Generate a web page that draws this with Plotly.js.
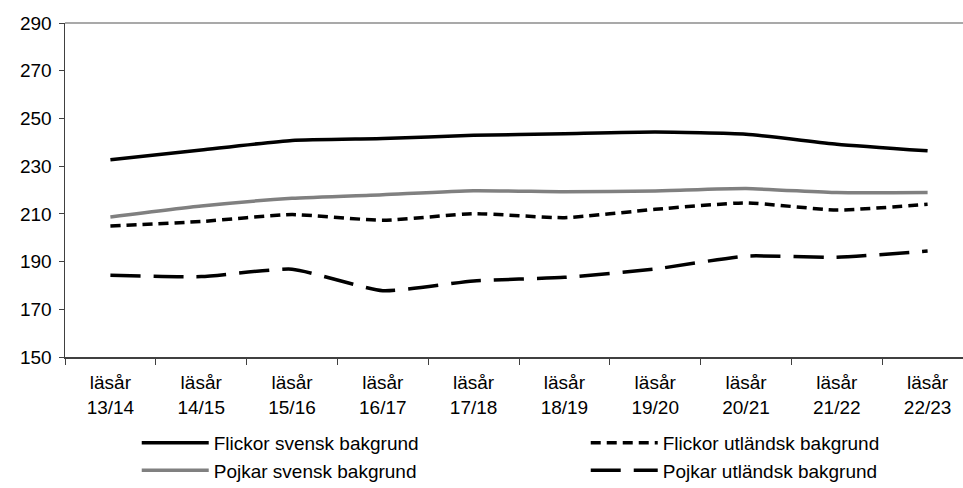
<!DOCTYPE html>
<html>
<head>
<meta charset="utf-8">
<script src="https://cdn.plot.ly/plotly-3.0.1.min.js"></script>
<style>
html,body{margin:0;padding:0;overflow:hidden;background:#fff;}
#chart{width:990px;height:488px;}
</style>
</head>
<body>
<div id="chart"></div>
<script>
var categories = ["läsår<br>13/14","läsår<br>14/15","läsår<br>15/16","läsår<br>16/17","läsår<br>17/18","läsår<br>18/19","läsår<br>19/20","läsår<br>20/21","läsår<br>21/22","läsår<br>22/23"];
var seriesNames = ["Flickor svensk bakgrund","Flickor utländsk bakgrund","Pojkar svensk bakgrund","Pojkar utländsk bakgrund"];
var flickorSvensk   = [232.7, 236.8, 240.8, 241.6, 242.9, 243.6, 244.3, 243.4, 239.2, 236.4];
var flickorUtlandsk = [204.9, 206.8, 209.7, 207.3, 210.1, 208.4, 211.9, 214.6, 211.6, 214.0];
var pojkarSvensk    = [208.7, 213.3, 216.5, 218.0, 219.7, 219.3, 219.6, 220.6, 218.9, 218.9];
var pojkarUtlandsk  = [184.3, 183.7, 186.8, 177.8, 181.9, 183.4, 186.9, 192.3, 191.8, 194.4];

var lineW = 3.5;
var traces = [
  {x: categories, y: flickorSvensk, name: seriesNames[0], type: "scatter", mode: "lines",
   line: {color: "#000000", width: lineW, shape: "spline", smoothing: 0.5}},
  {x: categories, y: flickorUtlandsk, name: seriesNames[1], type: "scatter", mode: "lines",
   line: {color: "#000000", width: lineW, dash: "10px,6px", shape: "spline", smoothing: 0.5}},
  {x: categories, y: pojkarSvensk, name: seriesNames[2], type: "scatter", mode: "lines",
   line: {color: "#808080", width: lineW, shape: "spline", smoothing: 0.5}},
  {x: categories, y: pojkarUtlandsk, name: seriesNames[3], type: "scatter", mode: "lines",
   line: {color: "#000000", width: lineW, dash: "30px,13px", shape: "spline", smoothing: 0.5}}
];

var font = {family: "Liberation Sans, Arial, sans-serif", size: 19, color: "#000000"};
var layout = {
  width: 990, height: 488,
  margin: {l: 65, r: 17, t: 23, b: 131, autoexpand: false},
  paper_bgcolor: "#ffffff", plot_bgcolor: "#ffffff",
  font: font,
  showlegend: true,
  legend: {orientation: "h", x: 0.079, xanchor: "left", y: -0.2, yanchor: "top",
           entrywidth: 367, entrywidthmode: "pixels", itemwidth: 67,
           tracegroupgap: 0, font: font, bgcolor: "rgba(0,0,0,0)"},
  xaxis: {type: "category", range: [-0.5, 9.5], autorange: false, showgrid: false, zeroline: false,
          showline: true, linecolor: "#404040", linewidth: 1.5,
          ticks: "outside", tickson: "boundaries", ticklen: 6, tickcolor: "#404040", tickwidth: 1,
          ticklabelstandoff: 8, tickfont: font, fixedrange: true},
  yaxis: {range: [150, 290], autorange: false, dtick: 20, tick0: 150, showgrid: false, zeroline: false,
          showline: true, linecolor: "#404040", linewidth: 1.5,
          ticks: "outside", ticklen: 5, tickcolor: "#404040", tickwidth: 1,
          ticklabelstandoff: 3, tickfont: font, fixedrange: true},
  shapes: [{type: "line", xref: "paper", yref: "paper", x0: 0, x1: 1, y0: 1, y1: 1,
            line: {color: "#8c8c8c", width: 1.5}}]
};
Plotly.newPlot("chart", traces, layout, {displayModeBar: false, staticPlot: true});
</script>
</body>
</html>
